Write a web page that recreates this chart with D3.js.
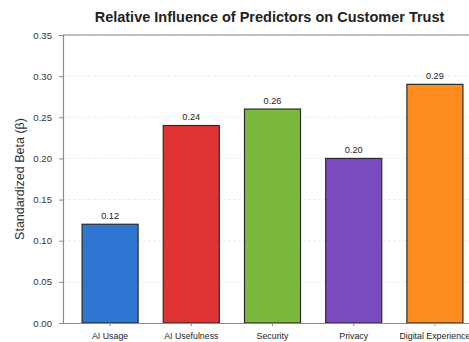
<!DOCTYPE html>
<html>
<head>
<meta charset="utf-8">
<script src="https://cdn.jsdelivr.net/npm/d3@7"></script>
<style>
  html, body { margin: 0; padding: 0; background: #fff; }
  svg { display: block; }
  text { font-family: "Liberation Sans", Arial, sans-serif; }
</style>
</head>
<body>
<svg id="chart" width="469" height="342"></svg>
<script>
// Predictors and their standardized beta coefficients
const predictors = ["AI Usage", "AI Usefulness", "Security", "Privacy", "Digital Experience"];
const betas = [0.12, 0.24, 0.26, 0.20, 0.29];
const barColors = ["#2f76d2", "#e03434", "#7cb83b", "#7a4bbf", "#ff8c1e"];
const yTicks = [0.00, 0.05, 0.10, 0.15, 0.20, 0.25, 0.30, 0.35];

const svg = d3.select("#chart");
const plot = { left: 63, top: 35, bottom: 323, right: 482 };
const fontFamily = "'Liberation Sans', Arial, sans-serif";

const x = d3.scaleBand()
  .domain(predictors)
  .range([plot.left, plot.right])
  .paddingInner(0.31)
  .paddingOuter(0.235);

const y = d3.scaleLinear().domain([0, 0.35]).range([plot.bottom, plot.top]);

// dashed horizontal grid
svg.append("g")
  .selectAll("line")
  .data(yTicks.slice(1))
  .join("line")
  .attr("x1", plot.left).attr("x2", 469)
  .attr("y1", d => y(d)).attr("y2", d => y(d))
  .attr("stroke", "#e6e6e6")
  .attr("stroke-width", 0.8)
  .attr("stroke-dasharray", "3,2");

// bars
svg.append("g")
  .selectAll("rect")
  .data(predictors)
  .join("rect")
  .attr("x", d => x(d))
  .attr("y", (d, i) => y(betas[i]))
  .attr("width", x.bandwidth())
  .attr("height", (d, i) => y(0) - y(betas[i]))
  .attr("fill", (d, i) => barColors[i])
  .attr("stroke", "#2a2a2a")
  .attr("stroke-width", 1.2);

// value labels
svg.append("g")
  .selectAll("text")
  .data(predictors)
  .join("text")
  .attr("x", d => x(d) + x.bandwidth() / 2)
  .attr("y", (d, i) => y(betas[i]) - 5.5)
  .attr("text-anchor", "middle")
  .attr("font-size", 9.2)
  .attr("fill", "#222")
  .text((d, i) => betas[i].toFixed(2));

// y axis
const yAxis = svg.append("g")
  .attr("transform", `translate(${plot.left},0)`)
  .call(d3.axisLeft(y).tickValues(yTicks).tickFormat(d3.format(".2f")).tickSize(4).tickPadding(7));
yAxis.select(".domain").attr("stroke", "#8a8a8a").attr("stroke-width", 1.2);
yAxis.selectAll(".tick line").attr("stroke", "#8a8a8a");
yAxis.selectAll(".tick text").attr("font-size", 9.6).attr("fill", "#333")
  .attr("font-family", fontFamily);

// x axis
const xAxis = svg.append("g")
  .attr("transform", `translate(0,${plot.bottom})`)
  .call(d3.axisBottom(x).tickSize(3).tickPadding(7).tickSizeOuter(0));
xAxis.select(".domain").attr("stroke", "#8a8a8a").attr("stroke-width", 1.2);
xAxis.selectAll(".tick line").attr("stroke", "#8a8a8a");
xAxis.selectAll(".tick text").attr("font-size", 8.8).attr("fill", "#222")
  .attr("font-family", fontFamily);

// top spine
svg.append("line")
  .attr("x1", plot.left).attr("x2", 469)
  .attr("y1", plot.top).attr("y2", plot.top)
  .attr("stroke", "#8a8a8a").attr("stroke-width", 1.2);

// y axis title
svg.append("text")
  .attr("transform", `translate(24,${(plot.top + plot.bottom) / 2}) rotate(-90)`)
  .attr("text-anchor", "middle")
  .attr("font-size", 12.5)
  .attr("fill", "#333")
  .text("Standardized Beta (β)");

// chart title
svg.append("text")
  .attr("x", 269.5)
  .attr("y", 22)
  .attr("text-anchor", "middle")
  .attr("font-size", 14.5)
  .attr("font-weight", "bold")
  .attr("fill", "#222")
  .text("Relative Influence of Predictors on Customer Trust");
</script>
</body>
</html>
